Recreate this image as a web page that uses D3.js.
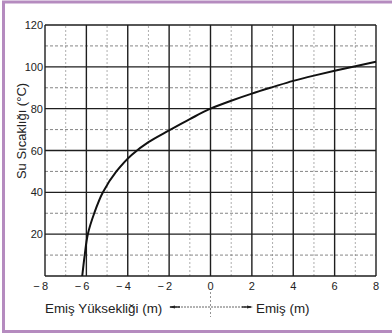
<!DOCTYPE html>
<html><head><meta charset="utf-8">
<script src="https://cdn.jsdelivr.net/npm/d3@7"></script>
<style>html,body{margin:0;padding:0;background:#fff;}svg{display:block;}</style>
</head><body>
<script>
// Data
const suctionHeight = [-6.2, -6.08, -5.93, -5.62, -5.2, -4.55, -3.8, -3.0, -2.0, -1.0, 0, 1, 2, 3, 4, 5, 6, 7, 8];
const waterTemp     = [0, 10, 20, 30, 40, 50, 58, 64, 69.6, 75, 80, 83.8, 87.2, 90.3, 93.3, 95.8, 98.1, 100.3, 102.4];
const xTicks = [-8, -6, -4, -2, 0, 2, 4, 6, 8];
const xMinor = [-7, -5, -3, -1, 1, 3, 5, 7];
const yTicks = [20, 40, 60, 80, 100, 120];
const yMinor = [10, 30, 50, 70, 90, 110];
const yTitle = "Su Sıcaklığı (°C)";
const leftCaption = "Emiş Yüksekliği (m)";
const rightCaption = "Emiş (m)";

const W = 392, H = 335;
const font = "'Liberation Sans', Arial, sans-serif";
const svg = d3.select("body").append("svg").attr("width", W).attr("height", H);
svg.append("rect").attr("width", W).attr("height", H).attr("fill", "#fff");
// purple frame
svg.append("rect").attr("x", 3.5).attr("y", 2).attr("width", 400).attr("height", 329.5)
  .attr("fill", "none").attr("stroke", "#b58bbf").attr("stroke-width", 3);

const x = d3.scaleLinear().domain([-8, 8]).range([45, 376]);
const y = d3.scaleLinear().domain([0, 120]).range([276, 25]);

const g = svg.append("g");
// minor grid
g.selectAll(".vmin").data(xMinor).join("line")
  .attr("x1", d => x(d)).attr("x2", d => x(d)).attr("y1", y(0)).attr("y2", y(120))
  .attr("stroke", "#999").attr("stroke-width", 0.8).attr("stroke-dasharray", "2,2");
g.selectAll(".hmin").data(yMinor).join("line")
  .attr("y1", d => y(d)).attr("y2", d => y(d)).attr("x1", x(-8)).attr("x2", x(8))
  .attr("stroke", "#777").attr("stroke-width", 0.9).attr("stroke-dasharray", "3,2");
// major grid
g.selectAll(".vmaj").data(xTicks).join("line")
  .attr("x1", d => x(d)).attr("x2", d => x(d)).attr("y1", y(0)).attr("y2", y(120))
  .attr("stroke", "#1e1e1e").attr("stroke-width", 1.4);
g.selectAll(".hmaj").data([0].concat(yTicks)).join("line")
  .attr("y1", d => y(d)).attr("y2", d => y(d)).attr("x1", x(-8)).attr("x2", x(8))
  .attr("stroke", "#1e1e1e").attr("stroke-width", 1.4);

// y tick labels
svg.selectAll(".ylab").data(yTicks).join("text")
  .attr("x", 43).attr("y", d => y(d) + 4)
  .attr("text-anchor", "end").attr("font-family", font).attr("font-size", 11)
  .attr("fill", "#222").text(d => d);

// x tick labels: digit centred on tick, minus hanging left
svg.selectAll(".xlab").data(xTicks).join("text")
  .attr("x", d => x(d) + (d < 0 ? 3 : 0)).attr("y", 290)
  .attr("text-anchor", d => d < 0 ? "end" : "middle")
  .attr("font-family", font).attr("font-size", 11).attr("fill", "#222")
  .text(d => d < 0 ? "\u2212\u2009" + Math.abs(d) : d);

// y axis title
svg.append("text").attr("transform", "translate(26,131) rotate(-90)")
  .attr("text-anchor", "middle").attr("font-family", font).attr("font-size", 13)
  .attr("fill", "#222").text(yTitle);

// curve
const pts = suctionHeight.map((v, i) => [v, waterTemp[i]]);
svg.append("path").datum(pts)
  .attr("d", d3.line().x(d => x(d[0])).y(d => y(d[1])).curve(d3.curveMonotoneY))
  .attr("fill", "none").attr("stroke", "#111").attr("stroke-width", 2);

// bottom captions
svg.append("text").attr("x", 45).attr("y", 313).attr("font-family", font).attr("font-size", 13.4)
  .attr("fill", "#222").text(leftCaption);
svg.append("text").attr("x", 256).attr("y", 313).attr("font-family", font).attr("font-size", 13.4)
  .attr("fill", "#222").text(rightCaption);

// double arrow with centre mark
const ay = 307;
svg.append("line").attr("x1", 172).attr("x2", 250).attr("y1", ay).attr("y2", ay)
  .attr("stroke", "#555").attr("stroke-width", 0.9).attr("stroke-dasharray", "2,1");
svg.append("line").attr("x1", 170).attr("x2", 180).attr("y1", ay).attr("y2", ay)
  .attr("stroke", "#222").attr("stroke-width", 1.4);
svg.append("line").attr("x1", 242).attr("x2", 251).attr("y1", ay).attr("y2", ay)
  .attr("stroke", "#222").attr("stroke-width", 1.4);
svg.append("path").attr("d", `M169,${ay} L175,${ay-1.6} L175,${ay+1.6} Z`).attr("fill", "#222");
svg.append("path").attr("d", `M253,${ay} L247,${ay-1.6} L247,${ay+1.6} Z`).attr("fill", "#222");
svg.append("line").attr("x1", x(0)).attr("x2", x(0)).attr("y1", 292).attr("y2", 317)
  .attr("stroke", "#777").attr("stroke-width", 0.8).attr("stroke-dasharray", "2,2");
</script>
</body></html>
